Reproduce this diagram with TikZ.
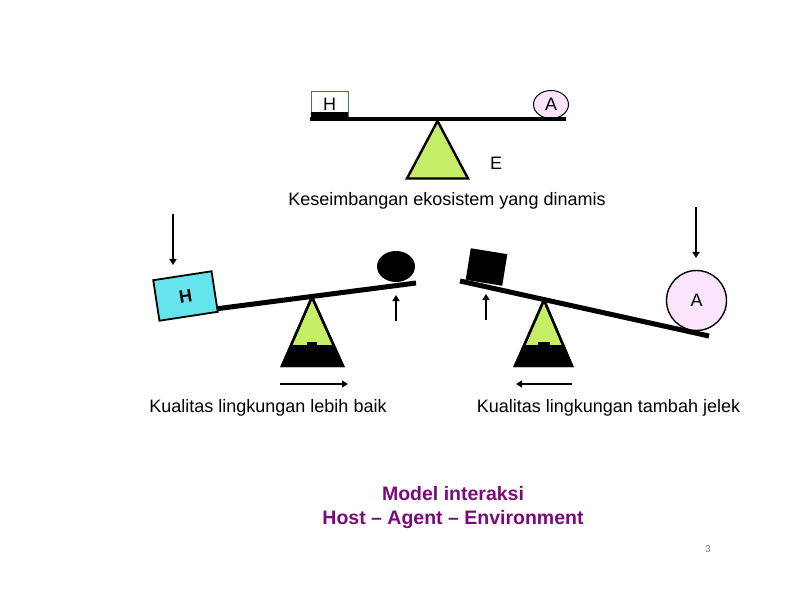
\documentclass[tikz,border=0pt]{standalone}
\usepackage{fontspec}
\setmainfont{Liberation Sans}
\newfontfamily\slidenum{Carlito}
\usetikzlibrary{positioning,shapes.geometric,arrows.meta}
\definecolor{fulcrum}{HTML}{C5EE66}
\definecolor{hostcyan}{HTML}{66E4EE}
\definecolor{agentpink}{HTML}{FCE4FC}
\definecolor{modelpurple}{HTML}{7A0A7A}
\definecolor{framegray}{HTML}{50698A}
\definecolor{pagegray}{HTML}{7F7F7F}

\tikzset{
  beam/.style={line width=5pt},
  push/.style={-{Triangle[length=6pt,width=7pt]},line width=2.6pt},
  pivot/.style={draw,line width=2.4pt,line join=miter},
  caption/.style={font=\fontsize{18}{20}\selectfont,inner sep=0pt},
  letter/.style={font=\fontsize{18}{20}\selectfont,inner sep=0pt}
}

\begin{document}
\begin{tikzpicture}[x=1pt,y=-1pt]
  \useasboundingbox (0,0) rectangle (792,612);
  % Balanced seesaw
  \begin{scope}
    \coordinate (topL) at (310,119);
    \coordinate (topR) at (566,119);
    \node[letter,draw=framegray,line width=0.8pt,minimum width=37pt,minimum height=25pt] (hostTop) at (329.5,104) {H};
    \fill (hostTop.south west) ++(0,-4.5) rectangle (hostTop.south east);
    \node[letter,ellipse,draw,line width=1pt,fill=agentpink,minimum width=35pt,minimum height=28pt] (agentTop) at (551,104.5) {A};
    \draw[line width=4pt] (topL) -- (topR);
    \filldraw[pivot,fill=fulcrum] (437.5,121) -- (468,178.5) -- (407,178.5) -- cycle;
    \node[letter] (envTop) at (496,163) {E};
    \node[caption] (balance) at (447,201) {Keseimbangan ekosistem yang dinamis};
  \end{scope}
  % Seesaw tipped to the host
  \begin{scope}
    \coordinate (leftL) at (215,309);
    \coordinate (leftR) at (416,283);
    \filldraw[pivot,fill=fulcrum] (312,297) -- (343,366) -- (282,366) -- cycle;
    \begin{scope}
      \clip (312,297) -- (343,366) -- (282,366) -- cycle;
      \fill (270,345) rectangle (360,370);
    \end{scope}
    \fill (307,342) rectangle (317,346);
    \draw[pivot,fill=none] (312,297) -- (343,366) -- (282,366) -- cycle;
    \draw[beam] (leftL) -- (leftR);
    \node[letter,draw,line width=1.8pt,fill=hostcyan,rotate=8.7,minimum width=59pt,minimum height=41pt,
      font=\bfseries\fontsize{18}{20}\selectfont] (hostLeft) at (185.5,296) {H};
    \fill (396,266.5) ellipse (19 and 15.5);
    \node[inner sep=0pt] (ballLeft) at (396,266.5) {};
    \coordinate (pressH) at (173,214);
    \coordinate (pressHend) at (173,265);
    \draw[push] (pressH) -- (pressHend);
    \coordinate (liftBall) at (396,321);
    \coordinate (liftBallend) at (396,295);
    \draw[push] (liftBall) -- (liftBallend);
    \coordinate (shiftL) at (280,384);
    \coordinate (shiftLend) at (348,384);
    \draw[push] (shiftL) -- (shiftLend);
    \node[caption] (better) at (268,408) {Kualitas lingkungan lebih baik};
  \end{scope}
  % Seesaw tipped to the agent
  \begin{scope}
    \coordinate (rightL) at (460,281);
    \coordinate (rightR) at (709,336);
    \filldraw[pivot,fill=fulcrum] (544,300) -- (572,366) -- (515,366) -- cycle;
    \begin{scope}
      \clip (544,300) -- (572,366) -- (515,366) -- cycle;
      \fill (500,345) rectangle (590,370);
    \end{scope}
    \fill (538,342) rectangle (550,346);
    \draw[pivot,fill=none] (544,300) -- (572,366) -- (515,366) -- cycle;
    \draw[beam] (rightL) -- (rightR);
    \node[fill,rotate=-9.2,minimum width=37pt,minimum height=32pt,inner sep=0pt] (blockRight) at (486.5,267) {};
    \node[letter,circle,draw,line width=1.4pt,fill=agentpink,minimum size=60pt] (agentRight) at (696.5,300.5) {A};
    \coordinate (pressA) at (696,207);
    \coordinate (pressAend) at (696,258);
    \draw[push] (pressA) -- (pressAend);
    \coordinate (liftBlock) at (486,320);
    \coordinate (liftBlockend) at (486,294);
    \draw[push] (liftBlock) -- (liftBlockend);
    \coordinate (shiftR) at (572,384);
    \coordinate (shiftRend) at (516,384);
    \draw[push] (shiftR) -- (shiftRend);
    \node[caption] (worse) at (608.5,408) {Kualitas lingkungan tambah jelek};
  \end{scope}
  % Title of the model
  \node[font=\bfseries\fontsize{19.5}{22}\selectfont,modelpurple,inner sep=0pt] (modelA) at (453,494) {Model interaksi};
  \node[font=\bfseries\fontsize{19.5}{22}\selectfont,modelpurple,inner sep=0pt] (modelB) at (453,519) {Host -- Agent -- Environment};
  \node[font=\slidenum\fontsize{11}{13}\selectfont,pagegray,inner sep=0pt] (pageno) at (708,549) {3};
\end{tikzpicture}
\end{document}
